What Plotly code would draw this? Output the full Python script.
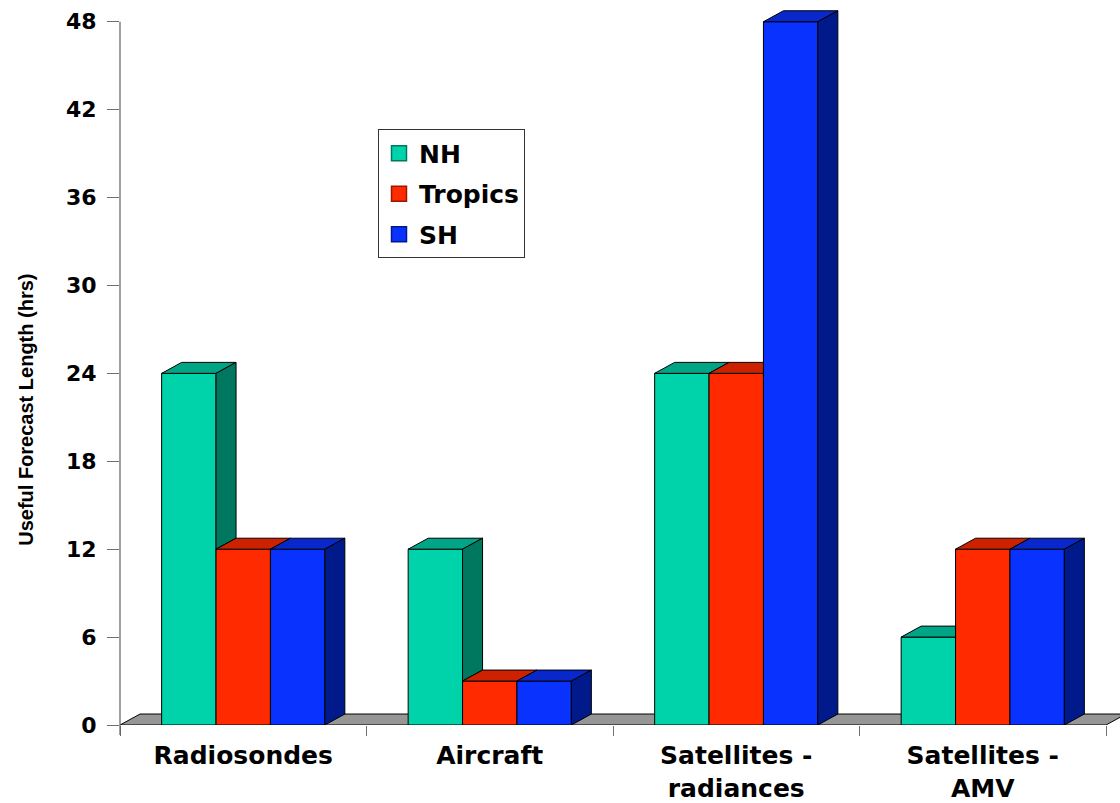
import plotly.graph_objects as go

# ---- data -------------------------------------------------------------
categories = ["Radiosondes", "Aircraft", "Satellites -<br>radiances", "Satellites -<br>AMV"]
series_names = ["NH", "Tropics", "SH"]
nh_hours = [24, 12, 24, 6]
tropics_hours = [12, 3, 24, 12]
sh_hours = [12, 3, 48, 12]
y_ticks = [0, 6, 12, 18, 24, 30, 36, 42, 48]

series_values = [nh_hours, tropics_hours, sh_hours]

# ---- style --------------------------------------------------------------
front_colors = ["#00D2AA", "#FF2A00", "#0A32FF"]
top_colors = ["#00A585", "#CC2200", "#0828CC"]
side_colors = ["#007860", "#991A00", "#001A8C"]
floor_color = "#969696"

W, H = 1120, 803
M_L, M_R, M_T, M_B = 120, 0, 10.25, 76
Y_MAX_VIEW = 48.8          # a little headroom so the 3-D top of the tallest column shows
X_EXTRA = 0.0568           # room on the right for the floor's depth
plot_w = W - M_L - M_R
plot_h = H - M_T - M_B
px_per_cat = plot_w / (4 + X_EXTRA)
px_per_unit = plot_h / Y_MAX_VIEW

DEPTH_X_PX, DEPTH_Y_PX = 20, 11
dx = DEPTH_X_PX / px_per_cat
dy = DEPTH_Y_PX / px_per_unit

bar_w = 0.2207
offsets = [-1.5 * bar_w, -0.5 * bar_w, 0.5 * bar_w]

BOLD = dict(family="DejaVu Sans", weight="bold", color="black")

fig = go.Figure()

# front faces of the columns
for i, name in enumerate(series_names):
    fig.add_trace(go.Bar(
        name=name, x=categories, y=series_values[i],
        width=bar_w, offset=offsets[i],
        marker=dict(color=front_colors[i], line=dict(color="black", width=1)),
        showlegend=False,
    ))

# legend entries with square swatches
for i, name in enumerate(series_names):
    fig.add_trace(go.Scatter(
        name=name, x=[None], y=[None], mode="markers",
        legendgroup=name,
        marker=dict(symbol="square", size=15, color=front_colors[i],
                    line=dict(color=side_colors[i], width=1.5)),
    ))


def poly(points):
    return "M " + " L ".join(f"{x:.5f},{y:.5f}" for x, y in points) + " Z"


shapes = []
# floor under the columns
shapes.append(dict(
    type="path", xref="x", yref="y", layer="below",
    path=poly([(-0.5, 0), (3.5, 0), (3.5 + dx, dy), (-0.5 + dx, dy)]),
    fillcolor=floor_color, line=dict(color="black", width=1),
))

# top and side faces, hiding the parts covered by the next column
for c in range(len(categories)):
    heights = [series_values[i][c] for i in range(3)]
    for i in range(3):
        h = heights[i]
        xl = c + offsets[i]
        xr = xl + bar_w
        nxt = heights[i + 1] if i < 2 else None
        if nxt is not None and nxt > h:
            top = [(xl, h), (xr, h), (xr, h + dy), (xl + dx, h + dy)]
        else:
            top = [(xl, h), (xr, h), (xr + dx, h + dy), (xl + dx, h + dy)]
        shapes.append(dict(type="path", xref="x", yref="y", layer="above",
                           path=poly(top), fillcolor=top_colors[i],
                           line=dict(color="black", width=1)))
        base = nxt if nxt is not None else 0
        if base < h:
            side = [(xr, base), (xr, h), (xr + dx, h + dy), (xr + dx, base + dy)]
            shapes.append(dict(type="path", xref="x", yref="y", layer="above",
                               path=poly(side), fillcolor=side_colors[i],
                               line=dict(color="black", width=1)))

# value axis line, stopping at the top tick
shapes.append(dict(type="line", xref="paper", yref="paper",
                   x0=0, x1=0, y0=-10 / plot_h, y1=48 / Y_MAX_VIEW,
                   line=dict(color="#606060", width=1.2)))

fig.update_layout(
    width=W, height=H,
    margin=dict(l=M_L, r=M_R, t=M_T, b=M_B, pad=0),
    paper_bgcolor="white", plot_bgcolor="white",
    barmode="overlay",
    shapes=shapes,
    showlegend=True,
    legend=dict(
        x=(378 - M_L) / plot_w, y=(H - M_B - 130) / plot_h,
        xanchor="left", yanchor="top",
        bordercolor="#333333", borderwidth=1, bgcolor="white",
        font=dict(size=25, **BOLD),
        tracegroupgap=5, itemclick=False,
    ),
    xaxis=dict(
        type="category", range=[-0.5, 3.5 + X_EXTRA],
        tickson="boundaries", ticks="outside", ticklen=10,
        tickcolor="#707070", tickwidth=1,
        showline=False, showgrid=False, zeroline=False,
        tickfont=dict(size=25, **BOLD), ticklabelstandoff=13,
    ),
    yaxis=dict(
        range=[0, Y_MAX_VIEW], tickmode="array", tickvals=y_ticks,
        ticks="outside", ticklen=12, tickcolor="#707070", tickwidth=1,
        showline=False, showgrid=False, zeroline=False,
        tickfont=dict(size=22, **BOLD), ticklabelstandoff=6,
    ),
    annotations=[dict(
        text="Useful Forecast Length (hrs)", textangle=-90,
        xref="paper", yref="paper",
        x=(26 - M_L) / plot_w, y=(H - M_B - 411) / plot_h,
        xanchor="center", yanchor="middle", showarrow=False,
        font=dict(family="Liberation Sans", size=20, weight="bold", color="black"),
    )],
)

fig.write_html("out.html")
